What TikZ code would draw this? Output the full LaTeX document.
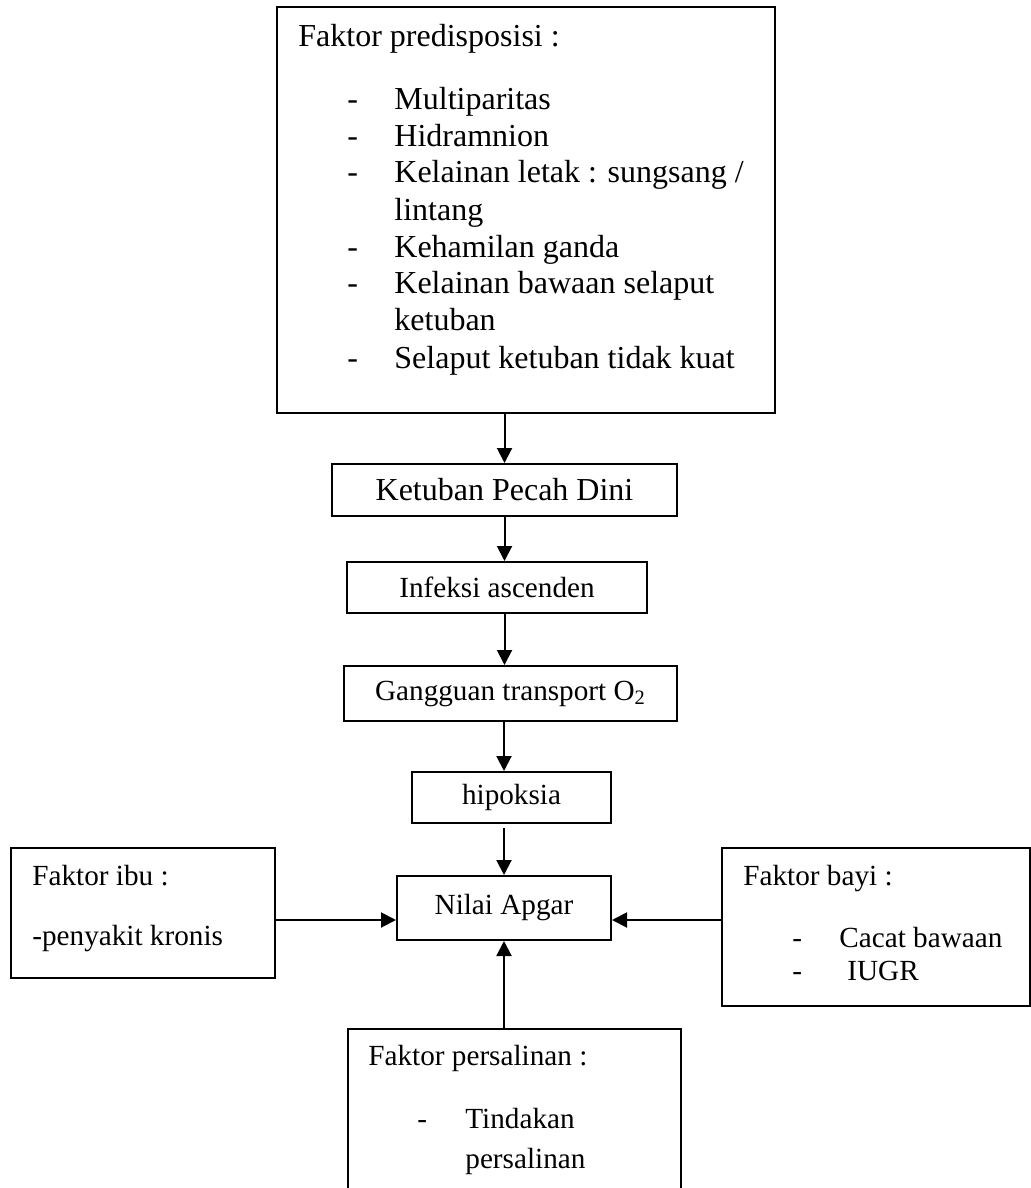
\documentclass[tikz,border=0pt]{standalone}
\usepackage{fontspec}
\setmainfont{Liberation Serif}
\usetikzlibrary{arrows.meta}
\newcommand\besar{\fontsize{16}{18.4}\selectfont}
\newcommand\kecil{\fontsize{14.6}{16.8}\selectfont}
\tikzset{
  kotak/.style={draw, line width=1pt, inner sep=0pt},
  teks/.style={anchor=base west, inner sep=0pt},
  panah/.style={line width=1pt, -{Triangle[length=7.5pt,width=7.5pt]}}
}

\begin{document}
\begin{tikzpicture}[x=0.5pt, y=-0.5pt]
    \useasboundingbox (0,0) rectangle (1031,1188);
    \clip (0,0) rectangle (1031,1188);

    % kotak utama
    \node[kotak, minimum width=249pt, minimum height=203pt] (pred) at (526,210) {};
    \node[kotak, minimum width=172.5pt, minimum height=26pt, font=\besar] (kpd) at (504.5,490) {Ketuban Pecah Dini};
    \node[kotak, minimum width=150pt, minimum height=25.5pt, font=\kecil] (inf) at (497,587.5) {Infeksi ascenden};
    \node[kotak, minimum width=166.5pt, minimum height=27.5pt, font=\kecil] (gtr) at (510.5,693.5) {Gangguan transport O\textsubscript{2}};
    \node[kotak, minimum width=99.5pt, minimum height=25.5pt, font=\kecil] (hip) at (511.5,797.5) {hipoksia};
    \node[kotak, minimum width=107pt, minimum height=32pt, font=\kecil] (apgar) at (504,908) {Nilai Apgar};
    \node[kotak, minimum width=132pt, minimum height=65pt] (ibu) at (143,913) {};
    \node[kotak, minimum width=154pt, minimum height=79pt] (bayi) at (876,927) {};
    \node[kotak, minimum width=166.5pt, minimum height=110.5pt] (salin) at (514.5,1139.5) {};

    % isi faktor predisposisi
    \begin{scope}[every node/.style={teks, font=\besar}]
      \node (predjudul) at (298,47) {Faktor predisposisi :};
      \foreach \y in {110,147,183,257,293,368}
        \node (strip\y) at (347,\y) {-};
      \node (p1) at (394,110) {Multiparitas};
      \node (p2) at (394,147) {Hidramnion};
      \node (p3) at (394,183) {Kelainan letak : sungsang /};
      \node (p3b) at (394,220) {lintang};
      \node (p4) at (394,257) {Kehamilan ganda};
      \node (p5) at (394,293) {Kelainan bawaan selaput};
      \node (p5b) at (394,330) {ketuban};
      \node (p6) at (394,368) {Selaput ketuban tidak kuat};
    \end{scope}

    % isi faktor lain
    \begin{scope}[every node/.style={teks, font=\kecil}]
      \node (ibujudul) at (32,885) {Faktor ibu :};
      \node (ibu1) at (32,945) {-penyakit kronis};
      \node (bayijudul) at (743,885) {Faktor bayi :};
      \node (bstrip1) at (792,947) {-};
      \node (bstrip2) at (792,980) {-};
      \node (bayi1) at (839,947) {Cacat bawaan};
      \node (bayi2) at (847,980) {IUGR};
      \node (salinjudul) at (368,1065) {Faktor persalinan :};
      \node (sstrip) at (417,1128) {-};
      \node (salin1) at (465,1128) {Tindakan};
      \node (salin2) at (465,1168) {persalinan};
    \end{scope}

    % panah
    \coordinate (lajur) at (0,920);
    \draw[panah] (pred.south -| kpd) -- (kpd.north);
    \draw[panah] (kpd.south) -- (kpd.south |- inf.north);
    \draw[panah] (inf.south -| kpd) -- (gtr.north -| kpd);
    \draw[panah] (gtr.south -| apgar) -- (hip.north -| apgar);
    \draw[panah] ([yshift=-2pt]hip.south -| apgar) -- (apgar.north);
    \draw[panah] (ibu.east |- lajur) -- (apgar.west |- lajur);
    \draw[panah] (bayi.west |- lajur) -- (apgar.east |- lajur);
    \draw[panah] (salin.north -| apgar) -- (apgar.south);
\end{tikzpicture}
\end{document}
